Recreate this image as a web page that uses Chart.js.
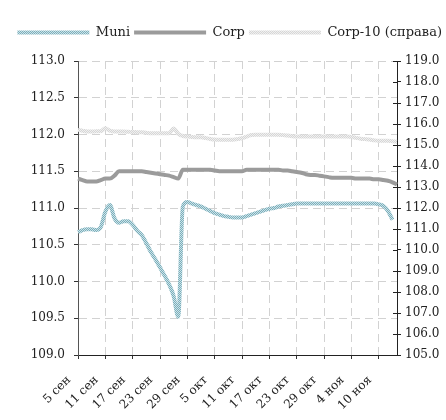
<!DOCTYPE html>
<html><head><meta charset="utf-8">
<script src="https://cdn.jsdelivr.net/npm/chart.js@4"></script>
<style>html,body{margin:0;padding:0;background:#fff}#w{width:446px;height:420px}</style>
</head><body><div id="w"><canvas id="c"></canvas></div>
<script>
const dates = ['5 сен','6 сен','7 сен','8 сен','9 сен','10 сен','11 сен','12 сен','13 сен','14 сен','15 сен','16 сен','17 сен','18 сен','19 сен','20 сен','21 сен','22 сен','23 сен','24 сен','25 сен','26 сен','27 сен','28 сен','29 сен','30 сен',
'1 окт','2 окт','3 окт','4 окт','5 окт','6 окт','7 окт','8 окт','9 окт','10 окт','11 окт','12 окт','13 окт','14 окт','15 окт','16 окт','17 окт','18 окт','19 окт','20 окт','21 окт','22 окт','23 окт','24 окт','25 окт','26 окт','27 окт','28 окт','29 окт','30 окт','31 окт',
'1 ноя','2 ноя','3 ноя','4 ноя','5 ноя','6 ноя','7 ноя','8 ноя','9 ноя','10 ноя','11 ноя','12 ноя','13 ноя','14 ноя'];
const tickLabels = ['5 сен','11 сен','17 сен','23 сен','29 сен','5 окт','11 окт','17 окт','23 окт','29 окт','4 ноя','10 ноя'];
const muni = [110.67,110.70,110.71,110.71,110.70,110.74,110.95,111.04,110.86,110.80,110.82,110.82,110.77,110.69,110.63,110.52,110.40,110.30,110.19,110.08,109.96,109.80,109.52,111.02,111.08,111.06,
111.04,111.02,110.99,110.96,110.93,110.91,110.89,110.88,110.87,110.87,110.87,110.89,110.91,110.93,110.95,110.97,110.99,111.00,111.02,111.03,111.04,111.05,111.06,111.06,111.06,111.06,111.06,111.06,111.06,111.06,111.06,
111.06,111.06,111.06,111.06,111.06,111.06,111.06,111.06,111.06,111.05,111.03,110.96,110.84];
const corp = [111.40,111.38,111.36,111.36,111.36,111.38,111.40,111.40,111.44,111.50,111.50,111.50,111.50,111.50,111.50,111.49,111.48,111.47,111.46,111.45,111.44,111.42,111.40,111.52,111.52,111.52,
111.52,111.52,111.52,111.52,111.51,111.50,111.50,111.50,111.50,111.50,111.50,111.52,111.52,111.52,111.52,111.52,111.52,111.52,111.52,111.51,111.51,111.50,111.49,111.48,111.46,111.45,111.45,111.44,111.43,111.42,111.41,
111.41,111.41,111.41,111.41,111.40,111.40,111.40,111.40,111.39,111.39,111.38,111.37,111.35,111.32];
const corp10 = [115.72,115.68,115.64,115.64,115.65,115.66,115.80,115.68,115.64,115.64,115.64,115.63,115.62,115.61,115.61,115.58,115.56,115.56,115.56,115.56,115.56,115.78,115.53,115.43,115.40,115.38,
115.37,115.37,115.33,115.29,115.26,115.25,115.25,115.25,115.25,115.28,115.32,115.40,115.48,115.49,115.49,115.49,115.49,115.49,115.49,115.47,115.45,115.42,115.41,115.41,115.41,115.41,115.41,115.41,115.41,115.41,115.41,
115.41,115.41,115.41,115.38,115.34,115.30,115.28,115.26,115.22,115.20,115.20,115.20,115.18,115.16];
const seriesNames = ['Muni','Corp','Corp-10 (справа)'];

function pat(c1, c2) {
  const cv = document.createElement('canvas'); cv.width = 2; cv.height = 2;
  const x = cv.getContext('2d');
  x.fillStyle = c1; x.fillRect(0,0,2,2);
  x.fillStyle = c2; x.fillRect(0,0,1,1); x.fillRect(1,1,1,1);
  return x.createPattern(cv, 'repeat');
}
const muniPat = pat('#7aaebb', '#cde3e8');
const c10Pat = pat('#d6d6d6', '#f0f0f0');
const TICKFONT = {family: 'DejaVu Serif', size: 12};
const LEGFONT = {family: 'DejaVu Serif', size: 13};
const grid = {color: '#d2d2d2', lineWidth: 1, tickColor: '#333', tickLength: 4, drawTicks: true};

const legendGap = {
  id: 'legendGap',
  beforeInit(chart) {
    const lg = chart.legend;
    if (!lg) return;
    const f = lg.fit;
    lg.fit = function () { f.call(this); this.height += 12; };
  }
};
const innerTicks = {
  id: 'innerTicks',
  afterDraw(chart) {
    const s = chart.scales.y1, ctx = chart.ctx;
    ctx.save(); ctx.strokeStyle = '#222'; ctx.lineWidth = 1;
    s.ticks.forEach((t, i) => {
      const y = Math.round(s.getPixelForTick(i)) + 0.5;
      ctx.beginPath(); ctx.moveTo(s.left - 4, y); ctx.lineTo(s.left, y); ctx.stroke();
    });
    ctx.restore();
  }
};

new Chart(document.getElementById('c'), {
  type: 'line',
  plugins: [legendGap, innerTicks],
  data: {
    labels: dates,
    datasets: [
      {label: seriesNames[0], data: muni, yAxisID: 'y', borderColor: muniPat, backgroundColor: muniPat, borderWidth: 4, pointRadius: 0, cubicInterpolationMode: 'monotone'},
      {label: seriesNames[1], data: corp, yAxisID: 'y', borderColor: '#9b9b9b', backgroundColor: '#9b9b9b', borderWidth: 4, pointRadius: 0, cubicInterpolationMode: 'monotone'},
      {label: seriesNames[2], data: corp10, yAxisID: 'y1', borderColor: c10Pat, backgroundColor: c10Pat, borderWidth: 4, pointRadius: 0, cubicInterpolationMode: 'monotone'}
    ]
  },
  options: {
    responsive: true, maintainAspectRatio: false, animation: false,
    layout: {padding: {top: 22, left: 0, right: 0, bottom: 0}},
    plugins: {
      tooltip: {enabled: false},
      legend: {
        position: 'top', align: 'end',
        labels: {
          font: LEGFONT, color: '#222', boxWidth: 72, boxHeight: 4, padding: 4,
          generateLabels: (chart) => Chart.defaults.plugins.legend.labels.generateLabels(chart).map(l => Object.assign(l, {lineWidth: 0}))
        }
      }
    },
    scales: {
      x: {
        type: 'category', offset: false,
        grid: grid,
        border: {display: true, color: '#222', dash: [8,5]},
        ticks: {
          autoSkip: false, minRotation: 45, maxRotation: 45, font: TICKFONT, color: '#222', padding: 14, labelOffset: -9,
          callback: (v, i) => (i % 6 === 0 ? tickLabels[i / 6] : null)
        },
        afterFit: s => { s.height = 65; }
      },
      y: {
        position: 'left', min: 109, max: 113,
        grid: grid,
        border: {display: true, color: '#555', dash: [8,5]},
        ticks: {stepSize: 0.5, font: TICKFONT, color: '#222', padding: 9, callback: v => v.toFixed(1)},
        afterFit: s => { s.width = 78; }
      },
      y1: {
        position: 'right', min: 105, max: 119,
        grid: {drawOnChartArea: false, tickColor: '#222', tickLength: 4},
        border: {display: true, color: '#222'},
        ticks: {stepSize: 1, font: TICKFONT, color: '#222', padding: 4, callback: v => v.toFixed(1)},
        afterFit: s => { s.width = 49; }
      }
    }
  }
});
</script></body></html>
